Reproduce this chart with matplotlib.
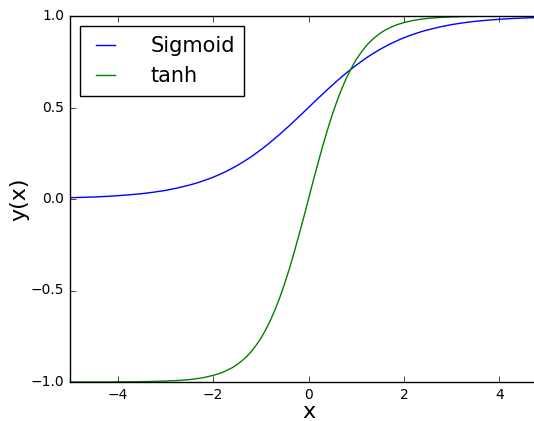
import matplotlib
matplotlib.use("Agg")
import matplotlib.pyplot as plt

# values (denser sampling where the curves bend)
x = [-5.0, -4.75, -4.5, -4.25, -4.0, -3.75, -3.5, -3.25, -3.0, -2.75,
     -2.5, -2.4, -2.3, -2.2, -2.1, -2.0, -1.9, -1.8, -1.7, -1.6,
     -1.5, -1.4, -1.3, -1.2, -1.1, -1.0, -0.9, -0.8, -0.7, -0.6,
     -0.5, -0.4, -0.3, -0.2, -0.1, 0.0, 0.1, 0.2, 0.3, 0.4,
     0.5, 0.6, 0.7, 0.8, 0.9, 1.0, 1.1, 1.2, 1.3, 1.4,
     1.5, 1.6, 1.7, 1.8, 1.9, 2.0, 2.1, 2.2, 2.3, 2.4,
     2.5, 2.75, 3.0, 3.25, 3.5, 3.75, 4.0, 4.25, 4.5, 4.75, 5.0]
sigmoid = [0.007, 0.009, 0.011, 0.014, 0.018, 0.023, 0.029, 0.037, 0.047, 0.060,
           0.076, 0.083, 0.091, 0.100, 0.109, 0.119, 0.130, 0.142, 0.154, 0.168,
           0.182, 0.198, 0.214, 0.231, 0.250, 0.269, 0.289, 0.310, 0.332, 0.354,
           0.378, 0.401, 0.426, 0.450, 0.475, 0.500, 0.525, 0.550, 0.574, 0.599,
           0.622, 0.646, 0.668, 0.690, 0.711, 0.731, 0.750, 0.769, 0.786, 0.802,
           0.818, 0.832, 0.846, 0.858, 0.870, 0.881, 0.891, 0.900, 0.909, 0.917,
           0.924, 0.940, 0.953, 0.963, 0.971, 0.977, 0.982, 0.986, 0.989, 0.991, 0.993]
tanh = [-1.000, -1.000, -1.000, -1.000, -0.999, -0.999, -0.998, -0.997, -0.995, -0.992,
        -0.987, -0.984, -0.980, -0.976, -0.970, -0.964, -0.956, -0.947, -0.935, -0.922,
        -0.905, -0.885, -0.862, -0.834, -0.800, -0.762, -0.716, -0.664, -0.604, -0.537,
        -0.462, -0.380, -0.291, -0.197, -0.100, 0.000, 0.100, 0.197, 0.291, 0.380,
        0.462, 0.537, 0.604, 0.664, 0.716, 0.762, 0.800, 0.834, 0.862, 0.885,
        0.905, 0.922, 0.935, 0.947, 0.956, 0.964, 0.970, 0.976, 0.980, 0.984,
        0.987, 0.992, 0.995, 0.997, 0.998, 0.999, 0.999, 1.000, 1.000, 1.000, 1.000]

plt.style.use("classic")
fig = plt.figure(figsize=(5.34, 4.21), dpi=100, facecolor="white")
# right spine sits past the image edge in the reference
ax = fig.add_axes([70 / 534, 1 - 382 / 421, 477 / 534, 366 / 421])

ax.plot(x, sigmoid, color="b", lw=1, label="Sigmoid")
ax.plot(x, tanh, color="g", lw=1, label="tanh")

ax.set_xlim(-5, 5)
ax.set_ylim(-1, 1)
ax.set_xticks([-4, -2, 0, 2, 4])
ax.set_yticks([-1.0, -0.5, 0.0, 0.5, 1.0])
ax.tick_params(labelsize=10, direction="in", top=True, right=True)
ax.set_xlabel("x", fontsize=16, labelpad=0)
ax.set_ylabel("y(x)", fontsize=16, labelpad=1)

ax.legend(loc="upper left", fontsize=15, fancybox=False, edgecolor="black",
          handlelength=1.5, handletextpad=1.4, borderpad=0.45, labelspacing=0.5,
          borderaxespad=0.5)

fig.savefig("out.png", dpi=100, facecolor="white")
